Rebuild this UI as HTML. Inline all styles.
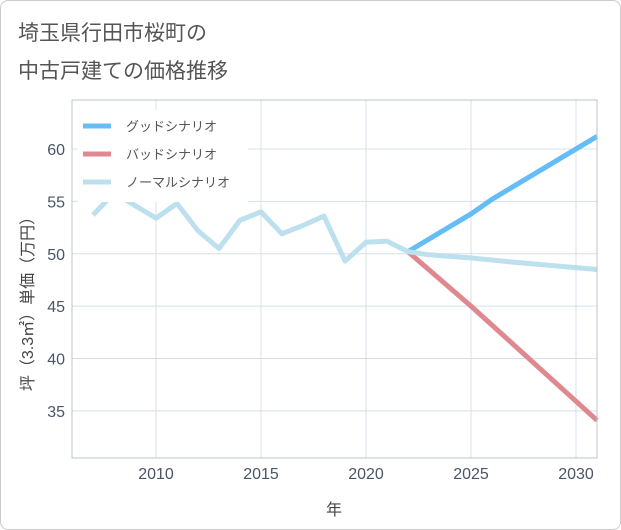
<!DOCTYPE html>
<html><head><meta charset="utf-8"><style>
body{margin:0;background:#fff;font-family:"Liberation Sans","Noto Sans CJK JP",sans-serif;}
#wrap{position:relative;width:619px;height:528px;border:1px solid #ccc;border-radius:8px;overflow:hidden;background:#fff}
</style></head><body>
<div id="wrap">
<svg id="chart" width="621" height="530" style="position:absolute;left:-1px;top:-1px">
<text x="18" y="40" font-size="21" fill="#555">埼玉県行田市桜町の</text>
<text x="18" y="78" font-size="21" fill="#555">中古戸建ての価格推移</text>
<g id="grid"></g><g id="series"></g><g id="axes"></g>
<text x="334" y="515" font-size="16" fill="#444" text-anchor="middle">年</text>
<text transform="translate(33,300) rotate(-90)" font-size="16" fill="#444" text-anchor="middle">坪（3.3㎡）単価（万円）</text>
<g>
<rect x="78" y="110" width="170" height="92" fill="#fff"/>
<line x1="83" y1="126" x2="111" y2="126" stroke="#64bdf6" stroke-width="5"/>
<text x="126" y="131" font-size="13" fill="#555">グッドシナリオ</text>
<line x1="83" y1="154" x2="111" y2="154" stroke="#e08890" stroke-width="5"/>
<text x="126" y="159" font-size="13" fill="#555">バッドシナリオ</text>
<line x1="83" y1="182" x2="111" y2="182" stroke="#bde0ee" stroke-width="5"/>
<text x="126" y="187" font-size="13" fill="#555">ノーマルシナリオ</text>
</g>
</svg>
</div>
<script>
const normalYears=[2007,2008,2009,2010,2011,2012,2013,2014,2015,2016,2017,2018,2019,2020,2021,2022,2023,2025,2027,2031];
const normalValues=[53.7,55.8,54.6,53.4,54.8,52.2,50.5,53.2,54.0,51.9,52.7,53.6,49.3,51.1,51.2,50.2,49.9,49.6,49.2,48.5];
const goodYears=[2022,2025,2026,2031];
const goodValues=[50.2,53.8,55.2,61.2];
const badYears=[2022,2025,2031];
const badValues=[50.2,45.0,34.1];
const xTicks=[2010,2015,2020,2025,2030];
const yTicks=[35,40,45,50,55,60];
const L=72,R=597,T=100,B=458,xMin=2006,xMax=2031,yMin=30.5,yMax=64.68;
const xs=v=>L+(v-xMin)/(xMax-xMin)*(R-L);
const ys=v=>B-(v-yMin)/(yMax-yMin)*(B-T);
const NS="http://www.w3.org/2000/svg";
const grid=document.getElementById('grid'),axes=document.getElementById('axes'),ser=document.getElementById('series');
function mk(tag,attrs,parent){const e=document.createElementNS(NS,tag);for(const k in attrs)e.setAttribute(k,attrs[k]);parent.appendChild(e);return e;}
xTicks.forEach(t=>{
 const l=mk('line',{x1:xs(t),x2:xs(t),y1:T,y2:B,stroke:'#d5e0e8','stroke-width':1},grid);
 
 
 const tx=mk('text',{x:xs(t),y:B+21,'font-size':16,fill:'#4a5566','text-anchor':'middle'},axes);
 tx.textContent=t;
 
 
});
yTicks.forEach(t=>{
 const l=mk('line',{x1:L,x2:R,y1:ys(t),y2:ys(t),stroke:'#d5e0e8','stroke-width':1},grid);
 
 
 const tx=mk('text',{x:L-7,y:ys(t)+6,'font-size':16,fill:'#4a5566','text-anchor':'end'},axes);
 tx.textContent=t;
 
 
});
const frame=mk('rect',{x:L,y:T,width:R-L,height:B-T,fill:'none',stroke:'#b8c4cc','stroke-width':1},axes);


function line(xv,yv,color,name){
 const p=mk('polyline',{points:xv.map((x,i)=>xs(x)+','+ys(yv[i])).join(' '),fill:'none',stroke:color,'stroke-width':5,'stroke-linejoin':'round'},ser);
 
 
}
line(badYears,badValues,'#e08890','bad-scenario-line');
line(goodYears,goodValues,'#64bdf6','good-scenario-line');
line(normalYears,normalValues,'#bde0ee','normal-scenario-line');
</script>
</body></html>
